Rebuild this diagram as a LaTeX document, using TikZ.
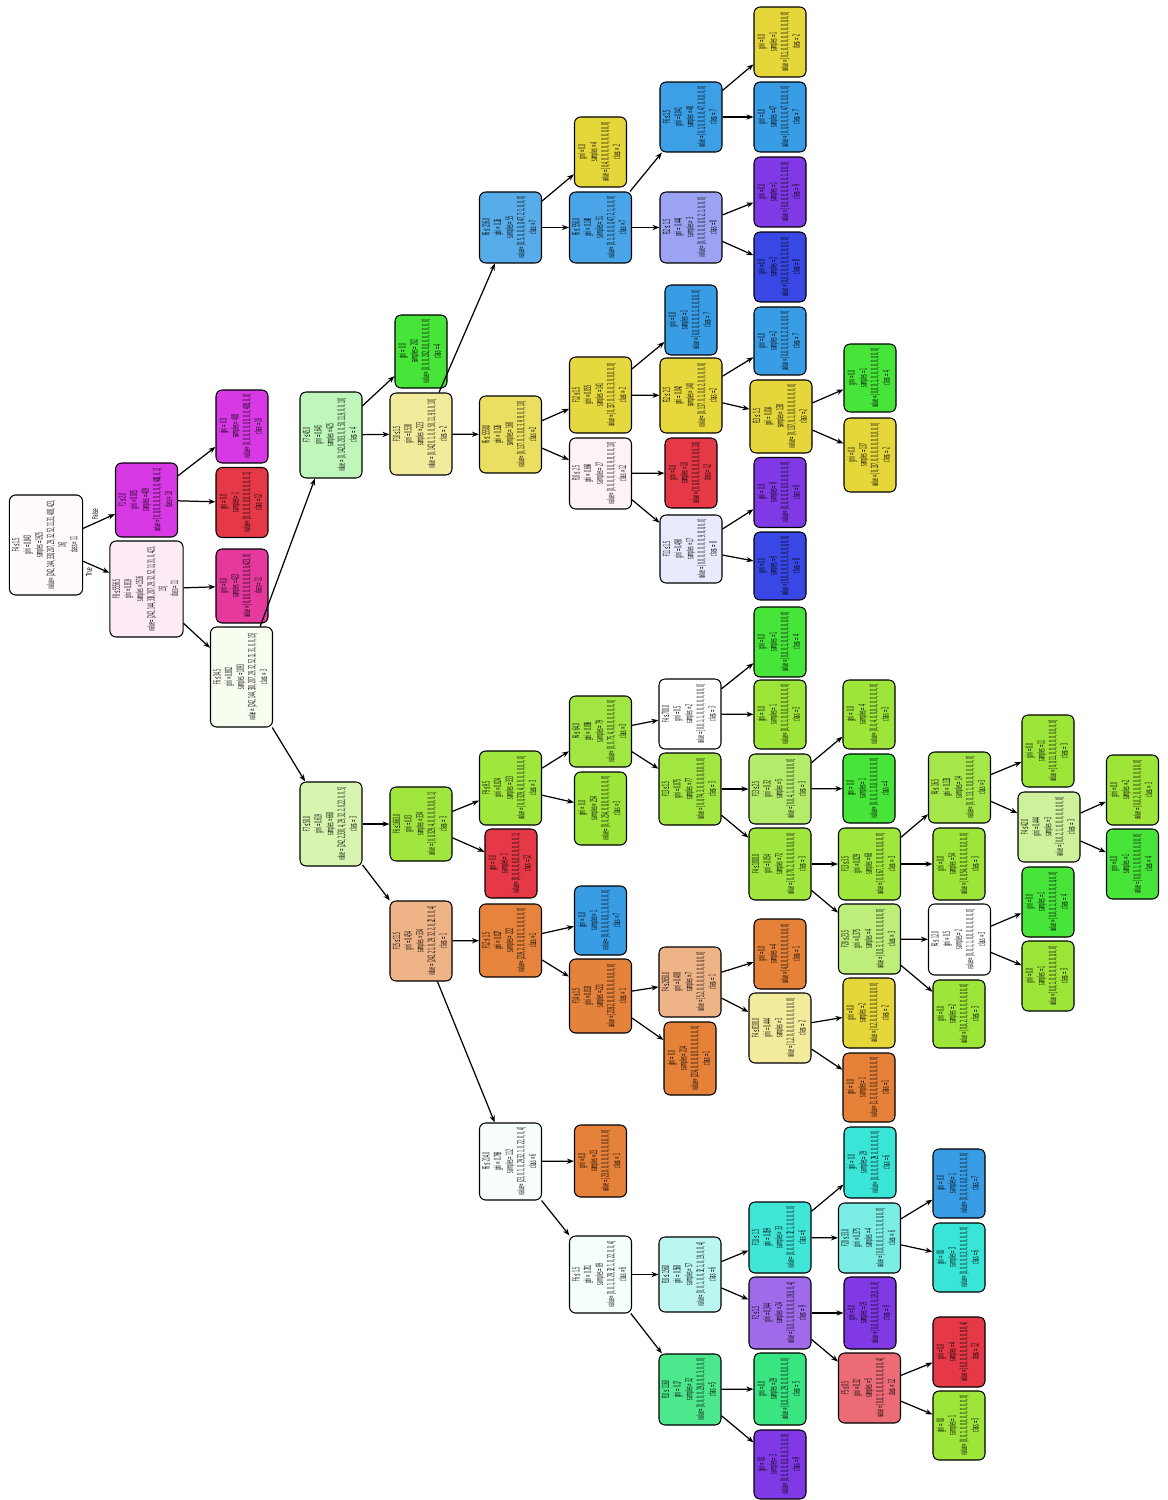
\documentclass[tikz,border=0pt]{standalone}
\usepackage{fontspec}
\setmainfont{DejaVu Sans}
\usepackage{graphicx}
\usetikzlibrary{arrows.meta}

% class colours (12 classes)
\definecolor{c1}{HTML}{E58139}
\definecolor{c2}{HTML}{E5D739}
\definecolor{c3}{HTML}{9DE539}
\definecolor{c4}{HTML}{47E539}
\definecolor{c5}{HTML}{39E581}
\definecolor{c6}{HTML}{39E5D7}
\definecolor{c7}{HTML}{399DE5}
\definecolor{c8}{HTML}{3948E5}
\definecolor{c9}{HTML}{8139E5}
\definecolor{c10}{HTML}{D739E5}
\definecolor{c11}{HTML}{E5399D}
\definecolor{c12}{HTML}{E53948}

\newcommand{\boxtxt}[1]{\scalebox{0.31}[1]{\begin{tabular}{@{}c@{}}#1\end{tabular}}}

\begin{document}
\begin{tikzpicture}[
  x=0.02cm, y=-0.02cm,
  tn/.style     = {draw=black, line width=0.6pt, rounded corners=3.5pt, rotate=90,
                   inner sep=1pt, minimum width=1.44cm, minimum height=1.24cm,
                   font=\fontsize{5.6}{6.6}\selectfont},
  lf/.style     = {tn, minimum width=1.40cm, minimum height=1.04cm},
  sixln/.style  = {minimum height=1.44cm},
  edg/.style    = {-{Stealth[length=4pt, width=3pt]}, line width=0.7pt},
  lbl/.style    = {rotate=90, font=\fontsize{4.5}{5}\selectfont}
]
\fill[white] (0,0) rectangle (1167,1500);
\useasboundingbox (0,0) rectangle (1167,1500);

% ---- root and first levels ----
\node[tn, sixln, fill=c11!3, minimum width=2cm] (r) at (46,545)
  {\boxtxt{F4 ≤ 1.5\\gini = 0.843\\samples = 1925\\value = [242, 144, 330, 207, 29, 32, 52, 11, 31, 408, 423,\\16]\\class = 11}};
\node[tn, fill=c10, minimum width=1.48cm] (a) at (146.5,500)
  {\boxtxt{F1 ≤ 2.0\\gini = 0.005\\samples = 409\\value = [0, 0, 0, 0, 0, 0, 0, 0, 0, 408, 0, 1]\\class = 10}};
\node[tn, sixln, fill=c11!10, minimum width=1.92cm] (b) at (146.5,589)
  {\boxtxt{F8 ≤ 5556.5\\gini = 0.819\\samples = 1516\\value = [242, 144, 330, 207, 29, 32, 52, 11, 31, 0, 423,\\15]\\class = 11}};
\node[lf, fill=c10, minimum width=1.46cm] (a1) at (242,426.5)
  {\boxtxt{gini = 0.0\\samples = 408\\value = [0, 0, 0, 0, 0, 0, 0, 0, 0, 408, 0, 0]\\class = 10}};
\node[lf, fill=c12] (a2) at (242,502.5)
  {\boxtxt{gini = 0.0\\samples = 1\\value = [0, 0, 0, 0, 0, 0, 0, 0, 0, 0, 0, 1]\\class = 12}};
\node[lf, fill=c11, minimum width=1.48cm] (b1) at (242,586)
  {\boxtxt{gini = 0.0\\samples = 423\\value = [0, 0, 0, 0, 0, 0, 0, 0, 0, 0, 423, 0]\\class = 11}};
\node[tn, fill=c3!8, minimum width=2cm] (c) at (241.5,677)
  {\boxtxt{F6 ≤ 34.5\\gini = 0.802\\samples = 1093\\value = [242, 144, 330, 207, 29, 32, 52, 11, 31, 0, 0, 15]\\class = 3}};
\node[tn, fill=c4!35, minimum width=1.72cm] (d) at (331,435)
  {\boxtxt{F7 ≤ 45.0\\gini = 0.645\\samples = 425\\value = [0, 142, 0, 203, 0, 0, 50, 11, 9, 0, 0, 10]\\class = 4}};
\node[tn, fill=c3!40, minimum width=1.68cm] (e) at (331,824)
  {\boxtxt{F7 ≤ 50.0\\gini = 0.619\\samples = 668\\value = [242, 2, 330, 4, 29, 32, 2, 0, 22, 0, 0, 5]\\class = 3}};

% ---- upper branch ----
\node[lf, fill=c4, minimum width=1.46cm] (d1) at (421,351.5)
  {\boxtxt{gini = 0.0\\samples = 202\\value = [0, 0, 0, 202, 0, 0, 0, 0, 0, 0, 0, 0]\\class = 4}};
\node[tn, fill=c2!50, minimum width=1.64cm] (f) at (421,434)
  {\boxtxt{F10 ≤ 1.5\\gini = 0.538\\samples = 223\\value = [0, 142, 0, 1, 0, 0, 50, 11, 9, 0, 0, 10]\\class = 2}};
\node[tn, fill=c7!85, minimum width=1.42cm] (i) at (510.5,227.5)
  {\boxtxt{F6 ≤ 216.0\\gini = 0.26\\samples = 55\\value = [0, 5, 0, 0, 0, 0, 47, 2, 1, 0, 0, 0]\\class = 7}};
\node[tn, fill=c2!80, minimum width=1.54cm] (j) at (510.5,434.5)
  {\boxtxt{F6 ≤ 5550.0\\gini = 0.326\\samples = 168\\value = [0, 137, 0, 1, 0, 0, 3, 9, 8, 0, 0, 10]\\class = 2}};
\node[lf, fill=c2] (i1) at (600.5,152)
  {\boxtxt{gini = 0.0\\samples = 4\\value = [0, 4, 0, 0, 0, 0, 0, 0, 0, 0, 0, 0]\\class = 2}};
\node[tn, fill=c7!92, minimum width=1.42cm] (n) at (600.5,227.5)
  {\boxtxt{F6 ≤ 550.0\\gini = 0.148\\samples = 51\\value = [0, 1, 0, 0, 0, 0, 47, 2, 1, 0, 0, 0]\\class = 7}};
\node[tn, fill=c2!97, minimum width=1.52cm] (o) at (600.5,395)
  {\boxtxt{F12 ≤ 1.5\\gini = 0.055\\samples = 141\\value = [0, 137, 0, 1, 0, 0, 3, 0, 0, 0, 0, 0]\\class = 2}};
\node[tn, fill=c12!6, minimum width=1.42cm] (p) at (600.5,473.5)
  {\boxtxt{F10 ≤ 2.5\\gini = 0.664\\samples = 27\\value = [0, 0, 0, 0, 0, 0, 0, 9, 8, 0, 0, 10]\\class = 12}};
\node[tn, fill=c7!98, minimum width=1.40cm] (t) at (691,117)
  {\boxtxt{F6 ≤ 1.5\\gini = 0.041\\samples = 48\\value = [0, 1, 0, 0, 0, 0, 47, 0, 0, 0, 0, 0]\\class = 7}};
\node[tn, fill=c8!50, minimum width=1.42cm] (u) at (691,227.5)
  {\boxtxt{F12 ≤ 1.5\\gini = 0.444\\samples = 3\\value = [0, 0, 0, 0, 0, 0, 0, 2, 1, 0, 0, 0]\\class = 8}};
\node[lf, fill=c7] (o1) at (691,320)
  {\boxtxt{gini = 0.0\\samples = 1\\value = [0, 0, 0, 0, 0, 0, 1, 0, 0, 0, 0, 0]\\class = 7}};
\node[tn, fill=c2!98, minimum width=1.50cm] (v) at (691,395.5)
  {\boxtxt{F12 ≤ 2.5\\gini = 0.042\\samples = 140\\value = [0, 137, 0, 1, 0, 0, 2, 0, 0, 0, 0, 0]\\class = 2}};
\node[lf, fill=c12] (p1) at (691,473)
  {\boxtxt{gini = 0.0\\samples = 10\\value = [0, 0, 0, 0, 0, 0, 0, 0, 0, 0, 0, 10]\\class = 12}};
\node[tn, fill=c8!11, minimum width=1.36cm] (w) at (691,549)
  {\boxtxt{F11 ≤ 1.5\\gini = 0.498\\samples = 17\\value = [0, 0, 0, 0, 0, 0, 0, 9, 8, 0, 0, 0]\\class = 8}};
\node[lf, fill=c2] (t1) at (780,42)
  {\boxtxt{gini = 0.0\\samples = 1\\value = [0, 1, 0, 0, 0, 0, 0, 0, 0, 0, 0, 0]\\class = 2}};
\node[lf, fill=c7] (t2) at (780,117)
  {\boxtxt{gini = 0.0\\samples = 47\\value = [0, 0, 0, 0, 0, 0, 47, 0, 0, 0, 0, 0]\\class = 7}};
\node[lf, fill=c9] (u1) at (780,192)
  {\boxtxt{gini = 0.0\\samples = 1\\value = [0, 0, 0, 0, 0, 0, 0, 0, 1, 0, 0, 0]\\class = 9}};
\node[lf, fill=c8] (u2) at (780,267)
  {\boxtxt{gini = 0.0\\samples = 2\\value = [0, 0, 0, 0, 0, 0, 0, 2, 0, 0, 0, 0]\\class = 8}};
\node[lf, fill=c7, minimum width=1.36cm] (v1) at (780,341)
  {\boxtxt{gini = 0.0\\samples = 2\\value = [0, 0, 0, 0, 0, 0, 2, 0, 0, 0, 0, 0]\\class = 7}};
\node[tn, fill=c2!99, minimum width=1.46cm] (ac) at (781,416.5)
  {\boxtxt{F13 ≤ 1.5\\gini = 0.014\\samples = 138\\value = [0, 137, 0, 1, 0, 0, 0, 0, 0, 0, 0, 0]\\class = 2}};
\node[lf, fill=c9] (w1) at (780,492.5)
  {\boxtxt{gini = 0.0\\samples = 8\\value = [0, 0, 0, 0, 0, 0, 0, 0, 8, 0, 0, 0]\\class = 9}};
\node[lf, fill=c8, minimum width=1.36cm] (w2) at (780,566)
  {\boxtxt{gini = 0.0\\samples = 9\\value = [0, 0, 0, 0, 0, 0, 0, 9, 0, 0, 0, 0]\\class = 8}};
\node[lf, fill=c4, minimum width=1.36cm] (ac1) at (870,378)
  {\boxtxt{gini = 0.0\\samples = 1\\value = [0, 0, 0, 1, 0, 0, 0, 0, 0, 0, 0, 0]\\class = 4}};
\node[lf, fill=c2, minimum width=1.48cm] (ac2) at (870,455)
  {\boxtxt{gini = 0.0\\samples = 137\\value = [0, 137, 0, 0, 0, 0, 0, 0, 0, 0, 0, 0]\\class = 2}};

% ---- lower branch: class 3 side ----
\node[tn, fill=c3!97, minimum width=1.48cm] (g) at (421,824)
  {\boxtxt{F6 ≤ 1663.0\\gini = 0.03\\samples = 334\\value = [0, 0, 329, 4, 0, 0, 0, 0, 0, 0, 0, 1]\\class = 3}};
\node[tn, fill=c3!98, minimum width=1.48cm] (k) at (510.5,788)
  {\boxtxt{F9 ≤ 9.5\\gini = 0.024\\samples = 333\\value = [0, 0, 329, 4, 0, 0, 0, 0, 0, 0, 0, 0]\\class = 3}};
\node[lf, fill=c12, minimum width=1.38cm] (g2) at (511,863.5)
  {\boxtxt{gini = 0.0\\samples = 1\\value = [0, 0, 0, 0, 0, 0, 0, 0, 0, 0, 0, 1]\\class = 12}};
\node[tn, fill=c3!95, minimum width=1.42cm] (q) at (600.5,731.5)
  {\boxtxt{F4 ≤ 64.0\\gini = 0.096\\samples = 79\\value = [0, 0, 75, 4, 0, 0, 0, 0, 0, 0, 0, 0]\\class = 3}};
\node[lf, fill=c3, minimum width=1.46cm] (k2) at (600.5,808.5)
  {\boxtxt{gini = 0.0\\samples = 254\\value = [0, 0, 254, 0, 0, 0, 0, 0, 0, 0, 0, 0]\\class = 3}};
\node[tn, fill=white, minimum width=1.40cm] (x) at (690,714)
  {\boxtxt{F4 ≤ 700.0\\gini = 0.5\\samples = 2\\value = [0, 0, 1, 1, 0, 0, 0, 0, 0, 0, 0, 0]\\class = 3}};
\node[tn, fill=c3!96] (y) at (690,789)
  {\boxtxt{F13 ≤ 1.5\\gini = 0.075\\samples = 77\\value = [0, 0, 74, 3, 0, 0, 0, 0, 0, 0, 0, 0]\\class = 3}};
\node[lf, fill=c4] (x1) at (780,642)
  {\boxtxt{gini = 0.0\\samples = 1\\value = [0, 0, 0, 1, 0, 0, 0, 0, 0, 0, 0, 0]\\class = 4}};
\node[lf, fill=c3, minimum width=1.38cm] (x2) at (780,714.5)
  {\boxtxt{gini = 0.0\\samples = 1\\value = [0, 0, 1, 0, 0, 0, 0, 0, 0, 0, 0, 0]\\class = 3}};
\node[tn, fill=c3!75, minimum width=1.40cm] (ad) at (780,789)
  {\boxtxt{F13 ≤ 2.5\\gini = 0.32\\samples = 5\\value = [0, 0, 4, 1, 0, 0, 0, 0, 0, 0, 0, 0]\\class = 3}};
\node[tn, fill=c3!97] (ae) at (780,864)
  {\boxtxt{F4 ≤ 1000.0\\gini = 0.054\\samples = 72\\value = [0, 0, 70, 2, 0, 0, 0, 0, 0, 0, 0, 0]\\class = 3}};
\node[lf, fill=c3, minimum width=1.38cm] (ad1) at (869,714.5)
  {\boxtxt{gini = 0.0\\samples = 4\\value = [0, 0, 4, 0, 0, 0, 0, 0, 0, 0, 0, 0]\\class = 3}};
\node[lf, fill=c4, minimum width=1.38cm] (ad2) at (869,788.5)
  {\boxtxt{gini = 0.0\\samples = 1\\value = [0, 0, 0, 1, 0, 0, 0, 0, 0, 0, 0, 0]\\class = 4}};
\node[tn, fill=c3!98] (ai) at (869.5,864)
  {\boxtxt{F13 ≤ 3.5\\gini = 0.029\\samples = 68\\value = [0, 0, 67, 1, 0, 0, 0, 0, 0, 0, 0, 0]\\class = 3}};
\node[tn, fill=c3!67, minimum width=1.40cm] (aj) at (869.5,939)
  {\boxtxt{F20 ≤ 23.5\\gini = 0.375\\samples = 4\\value = [0, 0, 3, 1, 0, 0, 0, 0, 0, 0, 0, 0]\\class = 3}};
\node[tn, fill=c3!92, minimum width=1.42cm] (am) at (959.5,787.5)
  {\boxtxt{F4 ≤ 16.5\\gini = 0.133\\samples = 14\\value = [0, 0, 13, 1, 0, 0, 0, 0, 0, 0, 0, 0]\\class = 3}};
\node[lf, fill=c3, minimum width=1.44cm] (ai2) at (959,864)
  {\boxtxt{gini = 0.0\\samples = 54\\value = [0, 0, 54, 0, 0, 0, 0, 0, 0, 0, 0, 0]\\class = 3}};
\node[tn, fill=white, minimum width=1.42cm] (an) at (959.5,939.5)
  {\boxtxt{F4 ≤ 12.0\\gini = 0.5\\samples = 2\\value = [0, 0, 1, 1, 0, 0, 0, 0, 0, 0, 0, 0]\\class = 3}};
\node[lf, fill=c3, minimum width=1.36cm] (aj2) at (959,1014)
  {\boxtxt{gini = 0.0\\samples = 2\\value = [0, 0, 2, 0, 0, 0, 0, 0, 0, 0, 0, 0]\\class = 3}};
\node[lf, fill=c3, minimum width=1.44cm] (am1) at (1048,751)
  {\boxtxt{gini = 0.0\\samples = 11\\value = [0, 0, 11, 0, 0, 0, 0, 0, 0, 0, 0, 0]\\class = 3}};
\node[tn, fill=c3!50, minimum width=1.40cm] (ao) at (1049,827)
  {\boxtxt{F4 ≤ 42.0\\gini = 0.444\\samples = 3\\value = [0, 0, 2, 1, 0, 0, 0, 0, 0, 0, 0, 0]\\class = 3}};
\node[lf, fill=c4] (an1) at (1048,902)
  {\boxtxt{gini = 0.0\\samples = 1\\value = [0, 0, 0, 1, 0, 0, 0, 0, 0, 0, 0, 0]\\class = 4}};
\node[lf, fill=c3] (an2) at (1048,976)
  {\boxtxt{gini = 0.0\\samples = 1\\value = [0, 0, 1, 0, 0, 0, 0, 0, 0, 0, 0, 0]\\class = 3}};
\node[lf, fill=c3] (ao1) at (1132.5,790)
  {\boxtxt{gini = 0.0\\samples = 2\\value = [0, 0, 2, 0, 0, 0, 0, 0, 0, 0, 0, 0]\\class = 3}};
\node[lf, fill=c4] (ao2) at (1132.5,864)
  {\boxtxt{gini = 0.0\\samples = 1\\value = [0, 0, 0, 1, 0, 0, 0, 0, 0, 0, 0, 0]\\class = 4}};

% ---- lower branch: class 1 / class 6 side ----
\node[tn, fill=c1!60, minimum width=1.60cm] (h) at (421,941)
  {\boxtxt{F15 ≤ 11.5\\gini = 0.454\\samples = 334\\value = [242, 2, 1, 0, 29, 32, 2, 0, 22, 0, 0, 4]\\class = 1}};
\node[tn, fill=c1!98, minimum width=1.46cm] (l) at (510.5,940.5)
  {\boxtxt{F12 ≤ 1.5\\gini = 0.027\\samples = 222\\value = [219, 2, 0, 0, 0, 0, 1, 0, 0, 0, 0, 0]\\class = 1}};
\node[tn, fill=c6!4, minimum width=1.54cm] (m) at (510.5,1161.5)
  {\boxtxt{F6 ≤ 214.0\\gini = 0.769\\samples = 112\\value = [23, 0, 1, 0, 29, 32, 1, 0, 22, 0, 0, 4]\\class = 6}};
\node[lf, fill=c7, minimum width=1.38cm] (l1) at (600.5,920.5)
  {\boxtxt{gini = 0.0\\samples = 1\\value = [0, 0, 0, 0, 0, 0, 1, 0, 0, 0, 0, 0]\\class = 7}};
\node[tn, fill=c1!99, minimum width=1.48cm] (rr) at (600.5,996)
  {\boxtxt{F14 ≤ 1.5\\gini = 0.018\\samples = 221\\value = [219, 2, 0, 0, 0, 0, 0, 0, 0, 0, 0, 0]\\class = 1}};
\node[lf, fill=c1, minimum width=1.44cm] (m1) at (600.5,1161)
  {\boxtxt{gini = 0.0\\samples = 23\\value = [23, 0, 0, 0, 0, 0, 0, 0, 0, 0, 0, 0]\\class = 1}};
\node[tn, fill=c6!5, minimum width=1.54cm] (s) at (600.5,1274.5)
  {\boxtxt{F6 ≤ 1.5\\gini = 0.701\\samples = 89\\value = [0, 0, 1, 0, 29, 32, 1, 0, 22, 0, 0, 4]\\class = 6}};
\node[tn, fill=c1!60, minimum width=1.40cm] (z) at (690,982)
  {\boxtxt{F4 ≤ 2650.0\\gini = 0.408\\samples = 7\\value = [5, 2, 0, 0, 0, 0, 0, 0, 0, 0, 0, 0]\\class = 1}};
\node[lf, fill=c1, minimum width=1.46cm] (r2) at (690,1058.5)
  {\boxtxt{gini = 0.0\\samples = 214\\value = [214, 0, 0, 0, 0, 0, 0, 0, 0, 0, 0, 0]\\class = 1}};
\node[tn, fill=c6!34, minimum width=1.50cm] (aa) at (690,1274.5)
  {\boxtxt{F10 ≤ 156.0\\gini = 0.568\\samples = 57\\value = [0, 0, 1, 0, 0, 32, 1, 0, 19, 0, 0, 4]\\class = 6}};
\node[tn, fill=c5!90, minimum width=1.42cm] (ab) at (690,1389.5)
  {\boxtxt{F10 ≤ 116.0\\gini = 0.17\\samples = 32\\value = [0, 0, 0, 0, 29, 0, 0, 0, 3, 0, 0, 0]\\class = 5}};
\node[lf, fill=c1] (z1) at (780,954)
  {\boxtxt{gini = 0.0\\samples = 4\\value = [4, 0, 0, 0, 0, 0, 0, 0, 0, 0, 0, 0]\\class = 1}};
\node[tn, fill=c2!50, minimum width=1.40cm] (af) at (780,1028)
  {\boxtxt{F4 ≤ 8100.0\\gini = 0.444\\samples = 3\\value = [1, 2, 0, 0, 0, 0, 0, 0, 0, 0, 0, 0]\\class = 2}};
\node[tn, fill=c6!97, minimum width=1.42cm] (ag) at (780,1237.5)
  {\boxtxt{F10 ≤ 1.5\\gini = 0.059\\samples = 33\\value = [0, 0, 0, 0, 0, 32, 1, 0, 0, 0, 0, 0]\\class = 6}};
\node[tn, fill=c9!75] (ah) at (780,1313)
  {\boxtxt{F2 ≤ 1.5\\gini = 0.344\\samples = 24\\value = [0, 0, 1, 0, 0, 0, 0, 0, 19, 0, 0, 4]\\class = 9}};
\node[lf, fill=c5, minimum width=1.44cm] (ab1) at (780,1389)
  {\boxtxt{gini = 0.0\\samples = 29\\value = [0, 0, 0, 0, 29, 0, 0, 0, 0, 0, 0, 0]\\class = 5}};
\node[lf, fill=c9, minimum width=1.38cm] (ab2) at (780,1464.5)
  {\boxtxt{gini = 0.0\\samples = 3\\value = [0, 0, 0, 0, 0, 0, 0, 0, 3, 0, 0, 0]\\class = 9}};
\node[lf, fill=c2] (af1) at (869,1013)
  {\boxtxt{gini = 0.0\\samples = 2\\value = [0, 2, 0, 0, 0, 0, 0, 0, 0, 0, 0, 0]\\class = 2}};
\node[lf, fill=c1, minimum width=1.38cm] (af2) at (869,1087.5)
  {\boxtxt{gini = 0.0\\samples = 1\\value = [1, 0, 0, 0, 0, 0, 0, 0, 0, 0, 0, 0]\\class = 1}};
\node[lf, fill=c6, minimum width=1.42cm] (ag1) at (870,1162.5)
  {\boxtxt{gini = 0.0\\samples = 29\\value = [0, 0, 0, 0, 0, 29, 0, 0, 0, 0, 0, 0]\\class = 6}};
\node[tn, fill=c6!67, minimum width=1.40cm] (ak) at (869.5,1238)
  {\boxtxt{F20 ≤ 33.0\\gini = 0.375\\samples = 4\\value = [0, 0, 0, 0, 0, 3, 1, 0, 0, 0, 0, 0]\\class = 6}};
\node[lf, fill=c9, minimum width=1.44cm] (ah1) at (870,1313)
  {\boxtxt{gini = 0.0\\samples = 19\\value = [0, 0, 0, 0, 0, 0, 0, 0, 19, 0, 0, 0]\\class = 9}};
\node[tn, fill=c12!75, minimum width=1.40cm] (al) at (869.5,1388)
  {\boxtxt{F5 ≤ 0.5\\gini = 0.32\\samples = 5\\value = [0, 0, 1, 0, 0, 0, 0, 0, 0, 0, 0, 4]\\class = 12}};
\node[lf, fill=c7, minimum width=1.38cm] (ak1) at (959,1183.5)
  {\boxtxt{gini = 0.0\\samples = 1\\value = [0, 0, 0, 0, 0, 0, 1, 0, 0, 0, 0, 0]\\class = 7}};
\node[lf, fill=c6, minimum width=1.38cm] (ak2) at (959,1257.5)
  {\boxtxt{gini = 0.0\\samples = 3\\value = [0, 0, 0, 0, 0, 3, 0, 0, 0, 0, 0, 0]\\class = 6}};
\node[lf, fill=c12] (al1) at (959,1352)
  {\boxtxt{gini = 0.0\\samples = 4\\value = [0, 0, 0, 0, 0, 0, 0, 0, 0, 0, 0, 4]\\class = 12}};
\node[lf, fill=c3, minimum width=1.38cm] (al2) at (959,1425.5)
  {\boxtxt{gini = 0.0\\samples = 1\\value = [0, 0, 1, 0, 0, 0, 0, 0, 0, 0, 0, 0]\\class = 3}};

% ---- connectors ----
\foreach \p/\c in {r/a, r/b, a/a1, a/a2, b/b1, b/c, c/d, c/e,
  d/d1, d/f, f/i, f/j, i/i1, i/n, n/t, n/u, t/t1, t/t2, u/u1, u/u2,
  j/o, j/p, o/o1, o/v, v/v1, v/ac, ac/ac1, ac/ac2, p/p1, p/w, w/w1, w/w2,
  e/g, e/h, g/k, g/g2, k/q, k/k2, q/x, q/y, x/x1, x/x2, y/ad, y/ae,
  ad/ad1, ad/ad2, ae/ai, ae/aj, ai/am, ai/ai2, am/am1, am/ao, ao/ao1, ao/ao2,
  aj/an, aj/aj2, an/an1, an/an2,
  h/l, h/m, l/l1, l/rr, rr/z, rr/r2, z/z1, z/af, af/af1, af/af2,
  m/m1, m/s, s/aa, s/ab, aa/ag, aa/ah, ag/ag1, ag/ak, ak/ak1, ak/ak2,
  ah/ah1, ah/al, al/al1, al/al2, ab/ab1, ab/ab2}
  \draw[edg] (\p) -- (\c);

% ---- root edge labels ----
\node[lbl] (lfalse) at (95,514) {\scalebox{0.55}[1]{False}};
\node[lbl] (ltrue) at (89,572) {\scalebox{0.55}[1]{True}};

\end{tikzpicture}
\end{document}
